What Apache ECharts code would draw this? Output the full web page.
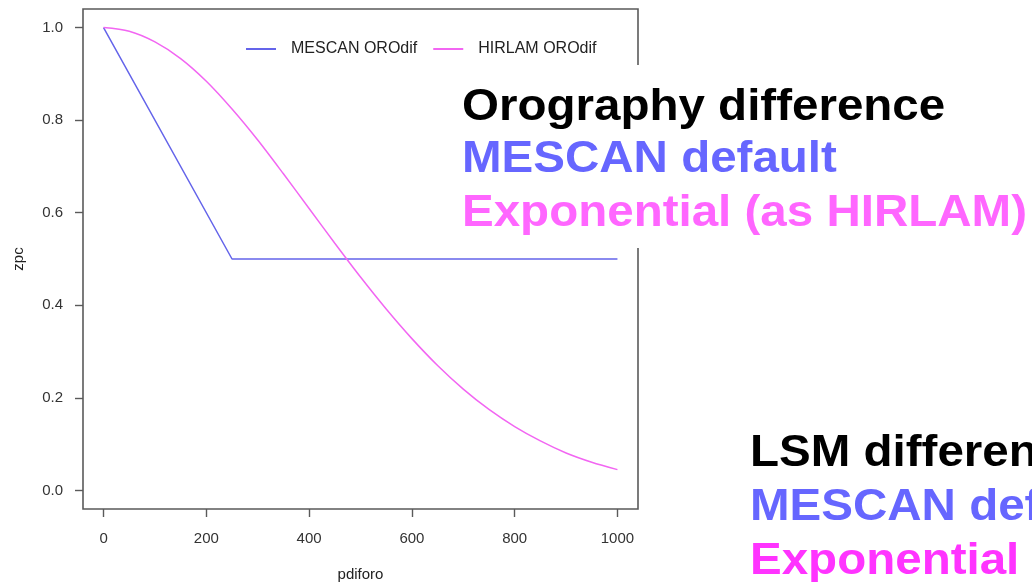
<!DOCTYPE html>
<html>
<head>
<meta charset="utf-8">
<title>zpc vs pdiforo</title>
<script src="https://cdn.jsdelivr.net/npm/echarts@6/dist/echarts.min.js"></script>
<style>
  html, body { margin: 0; padding: 0; background: #ffffff; }
  #chart { width: 1032px; height: 582px; }
</style>
</head>
<body>
<div id="chart"></div>
<script>
// Orography-difference weighting functions
const mescanX = [0, 250, 1000];
const mescanZpc = [1.0, 0.5, 0.5];

const hirlamX = [0, 50, 100, 150, 200, 250, 300, 350, 400, 450, 500,
                 550, 600, 650, 700, 750, 800, 850, 900, 950, 1000];
const hirlamZpc = [1.0, 0.992, 0.969, 0.933, 0.884, 0.824, 0.757, 0.684, 0.609, 0.534, 0.461,
                   0.392, 0.328, 0.270, 0.219, 0.175, 0.138, 0.107, 0.081, 0.061, 0.045];

const xTicks = [0, 200, 400, 600, 800, 1000];
const yTicks = [0.0, 0.2, 0.4, 0.6, 0.8, 1.0];

const seriesNames = ['MESCAN OROdif', 'HIRLAM OROdif'];
const blue = '#6464ea';
const pink = '#f266f2';
const frame = '#5a5a5a';
const textFont = '"Liberation Sans", Arial, sans-serif';

const pair = (xs, ys) => xs.map((x, i) => [x, ys[i]]);

const chart = echarts.init(document.getElementById('chart'), null, { renderer: 'canvas' });

// slide-style captions to the right of the plot
function caption(text, x, y, color) {
  return {
    type: 'text', x: x, y: y, scaleX: 1.08, z: 101,
    style: {
      text: text, fill: color, align: 'left', verticalAlign: 'middle',
      fontFamily: textFont, fontWeight: 'bold', fontSize: 44
    }
  };
}

chart.setOption({
  animation: false,
  backgroundColor: '#ffffff',
  grid: {
    left: 83, top: 9, right: 394, bottom: 73,
    outerBoundsMode: 'none', containLabel: false,
    show: true, borderColor: frame, borderWidth: 1.6, backgroundColor: 'transparent'
  },
  legend: {
    data: seriesNames,
    left: 246, top: 41, padding: 0,
    itemWidth: 30, itemHeight: 2, itemGap: 16,
    icon: 'rect',
    textStyle: { fontFamily: textFont, fontSize: 16, color: '#222', padding: [0, 0, 0, 10] }
  },
  xAxis: {
    type: 'value', min: -40, max: 1040,
    name: 'pdiforo', nameLocation: 'middle', nameGap: 58,
    nameTextStyle: { fontFamily: textFont, fontSize: 15, color: '#222' },
    axisLine: { show: false, onZero: false },
    axisTick: { show: true, inside: false, length: 8, customValues: xTicks,
                lineStyle: { color: frame, width: 1.4 } },
    axisLabel: { customValues: xTicks, margin: 22, fontFamily: textFont, fontSize: 15, color: '#333',
                 formatter: v => String(v) },
    splitLine: { show: false }
  },
  yAxis: {
    type: 'value', min: -0.04, max: 1.04,
    name: 'zpc', nameLocation: 'middle', nameGap: 57,
    nameTextStyle: { fontFamily: textFont, fontSize: 15, color: '#222' },
    axisLine: { show: false, onZero: false },
    axisTick: { show: true, inside: false, length: 8, customValues: yTicks,
                lineStyle: { color: frame, width: 1.4 } },
    axisLabel: { customValues: yTicks, margin: 20, fontFamily: textFont, fontSize: 15, color: '#333',
                 formatter: v => v.toFixed(1) },
    splitLine: { show: false }
  },
  series: [
    {
      name: seriesNames[0], type: 'line', data: pair(mescanX, mescanZpc),
      showSymbol: false, color: blue, lineStyle: { color: blue, width: 1.5 }
    },
    {
      name: seriesNames[1], type: 'line', data: pair(hirlamX, hirlamZpc),
      smooth: 0.3, showSymbol: false, color: pink, lineStyle: { color: pink, width: 1.5 }
    }
  ],
  graphic: [
    { type: 'rect', z: 100, shape: { x: 455, y: 65, width: 577, height: 183 },
      style: { fill: '#ffffff' } },
    caption('Orography difference', 462, 108, '#000000'),
    caption('MESCAN default', 462, 160, '#6666ff'),
    caption('Exponential (as HIRLAM)', 462, 214, '#ff66ff'),
    caption('LSM difference', 750, 454, '#000000'),
    caption('MESCAN default', 750, 508, '#6666ff'),
    caption('Exponential (as HIRLAM)', 750, 562, '#ff33ff')
  ]
});
</script>
</body>
</html>
